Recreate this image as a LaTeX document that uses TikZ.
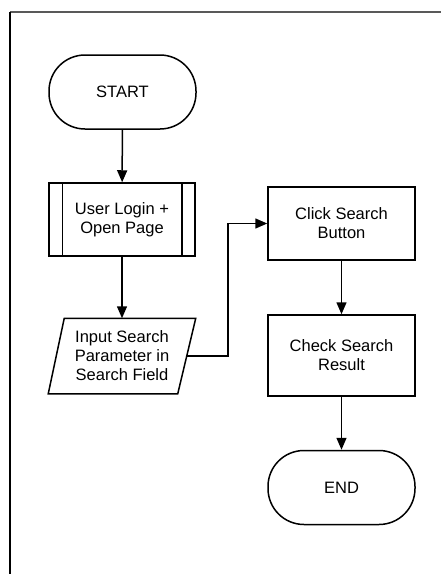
\documentclass[tikz,border=0pt]{standalone}
\usepackage{fontspec}
\setmainfont{Liberation Sans}
\usetikzlibrary{arrows.meta}
\begin{document}
\begin{tikzpicture}[x=0.5pt,y=-0.5pt,>={Triangle[length=6pt,width=5pt]},line width=0.75pt,
    font=\fontsize{8.25}{9.5}\selectfont,
    box/.style={draw,align=center,inner sep=0pt,minimum width=73.5pt,minimum height=36.5pt},
    term/.style={box,rounded corners=18pt,minimum height=37pt},
    sub/.style={box,minimum width=73pt},
    io/.style={align=center,inner sep=0pt,minimum width=73pt,minimum height=37pt}]
    \useasboundingbox (0,0) rectangle (441,574);
    \draw[gray!70!black] (10,12)--(441,12);
    \draw (10,12)--(10,574);
    % left column
    \node[term] (start) at (122.5,92) {START};
    \node[sub] (login) at (122,219.5) {User Login +\\Open Page};
    \draw ([xshift=7pt]login.north west)--([xshift=7pt]login.south west)
          ([xshift=-7pt]login.north east)--([xshift=-7pt]login.south east);
    \node[io] (input) at (122,356) {Input Search\\Parameter in\\Search Field};
    \draw ([xshift=8pt]input.north west)--(input.north east)
          --([xshift=-9pt]input.south east)--(input.south west)--cycle;
    % right column
    \node[box] (click) at (341.5,223.5) {Click Search\\Button};
    \node[box,minimum height=40.5pt] (check) at (341.5,355.5) {Check Search\\Result};
    \node[term] (end) at (341.5,487.5) {END};
    \coordinate (elbow) at (228,356);
    \draw[->] (start)--(login);
    \draw[->] (login)--(input);
    \draw[->] ([xshift=-4.5pt]input.east)--(elbow)|-(click.west);
    \draw[->] (click)--(check);
    \draw[->] (check)--(end);
\end{tikzpicture}
\end{document}
